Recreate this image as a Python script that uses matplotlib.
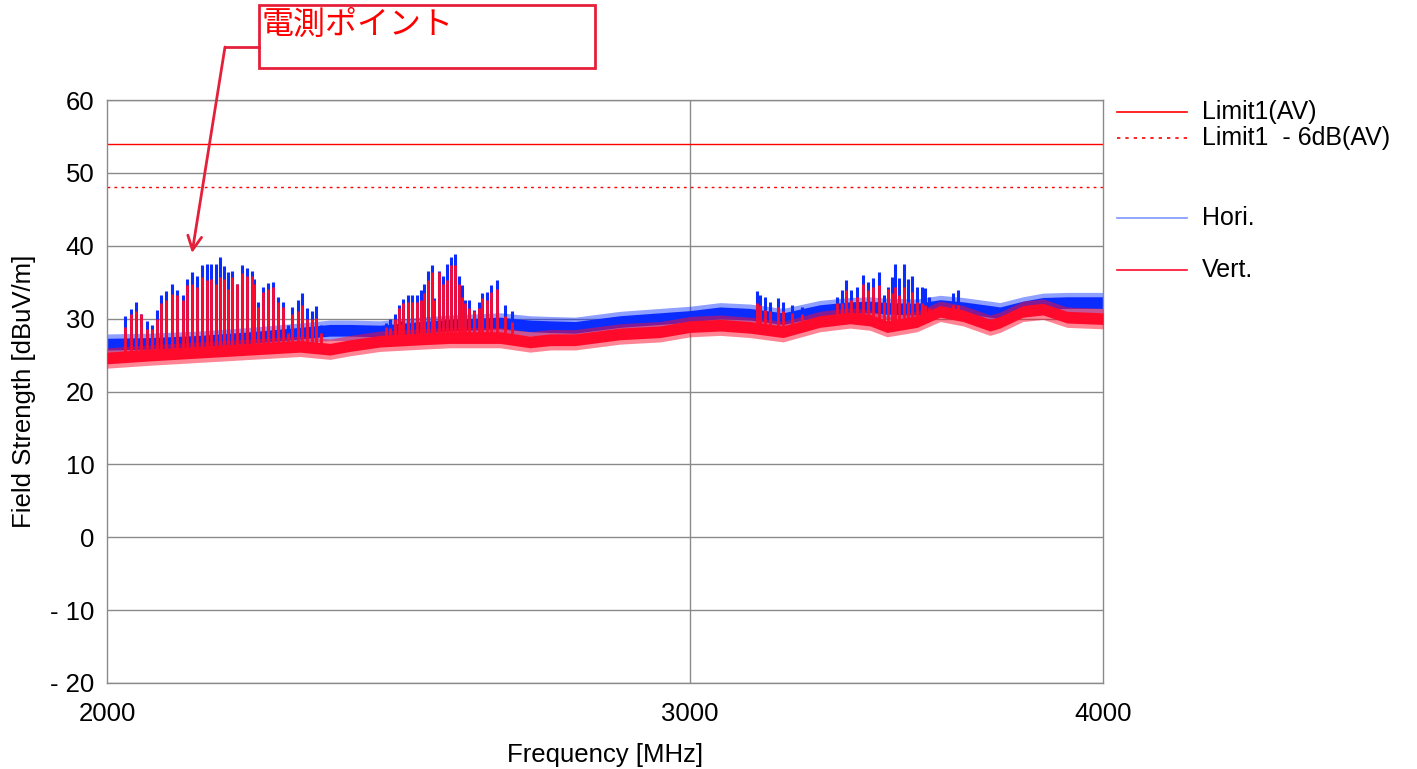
import numpy as np
import matplotlib
matplotlib.use('Agg')
import matplotlib.pyplot as plt
from matplotlib.lines import Line2D
from matplotlib.patches import Rectangle

plt.rcParams['font.family'] = ['Liberation Sans', 'Noto Sans CJK JP', 'DejaVu Sans']

# ---------------- data ----------------
base_freq = [2000, 2060.8, 2133.7, 2209.3, 2287.5, 2335.8, 2368.5, 2418.5, 2486.8,
             2539.3, 2629.2, 2684.6, 2722.3, 2770.1, 2858.2, 2938.9, 3000.9, 3064.2,
             3128.8, 3201.5, 3284.5, 3354.2, 3401.2, 3441.7, 3514.5, 3571.3, 3628.8,
             3697.4, 3723.2, 3783.3, 3836.4, 3900.9, 4000]
hori_base = [26.5, 26.6, 26.9, 27.4, 28.0, 28.4, 28.4, 28.3, 28.8,
             29.1, 29.4, 29.0, 28.9, 28.8, 29.6, 30.0, 30.3, 30.8,
             30.6, 30.0, 31.1, 31.5, 31.6, 31.4, 31.3, 31.8, 31.5,
             31.0, 30.8, 31.6, 32.1, 32.2, 32.2]
vert_base = [24.6, 25.0, 25.4, 25.8, 26.2, 25.8, 26.3, 26.9, 27.2,
             27.4, 27.4, 26.8, 27.1, 27.1, 27.9, 28.2, 28.9, 29.1,
             28.8, 28.2, 29.6, 30.1, 29.8, 28.9, 29.6, 31.0, 30.4,
             29.1, 29.5, 31.0, 31.3, 30.2, 30.0]

spike_freq = [2025.6, 2033.3, 2040.8, 2048.3, 2056.0, 2063.6, 2070.8, 2077.0, 2084.3,
              2092.6, 2099.8, 2108.7, 2114.5, 2121.9, 2129.3, 2136.7, 2144.2, 2150.6,
              2157.2, 2163.2, 2169.7, 2176.2, 2182.2, 2188.9, 2196.5, 2204.2, 2211.9,
              2215.9, 2222.1, 2229.8, 2237.6, 2245.4, 2252.3, 2260.2, 2268.0, 2275.3,
              2283.8, 2291.2, 2298.7, 2306.2, 2313.6, 2321.2,
              2428.1, 2435.9, 2443.3, 2450.7, 2454.6, 2458.0, 2465.6, 2473.0, 2481.1,
              2488.5, 2493.2, 2500.2, 2507.1, 2511.1, 2519.4, 2526.9, 2533.5, 2541.1,
              2548.1, 2554.7, 2560.1, 2565.9, 2572.6, 2582.6, 2591.6, 2595.9, 2605.0,
              2612.8, 2623.2, 2638.4, 2650.7,
              3143.3, 3150.6, 3161.6, 3172.6, 3191.0, 3200.8, 3220.9, 3243.4, 3323.4,
              3335.0, 3345.0, 3356.6, 3370.0, 3384.1, 3397.3, 3409.1, 3423.4, 3434.6,
              3444.9, 3453.1, 3461.0, 3471.4, 3483.5, 3493.2, 3502.9, 3513.7, 3525.9,
              3534.8, 3544.6, 3604.3, 3616.9]
hori_peak = [30.3, 31.3, 32.3, 30.7, 29.7, 29.1, 31.2, 33.3, 33.8,
             34.8, 33.9, 33.2, 35.5, 36.4, 35.9, 37.3, 37.5, 37.5,
             37.5, 38.4, 37.2, 36.4, 36.6, 34.8, 37.3, 37.0, 36.6,
             35.5, 32.3, 34.4, 34.9, 35.0, 32.9, 32.3, 29.1, 31.6,
             32.6, 33.5, 31.5, 31.0, 31.7, 29.1,
             29.4, 29.9, 30.6, 31.9, 29.7, 32.7, 33.2, 33.2, 33.2,
             33.9, 34.7, 36.6, 37.3, 32.8, 36.5, 35.9, 37.5, 38.4,
             38.9, 35.9, 34.6, 32.6, 32.6, 31.2, 32.3, 33.5, 33.7,
             34.6, 35.3, 31.9, 31.1,
             33.8, 33.3, 32.9, 32.3, 32.8, 32.3, 31.9, 31.6, 33.0,
             33.9, 35.3, 33.9, 34.4, 36.0, 35.0, 35.6, 36.4, 33.3,
             34.4, 35.7, 37.5, 35.6, 37.5, 35.4, 35.9, 34.4, 34.4,
             34.2, 33.0, 33.5, 33.9]
vert_peak = [28.8, 30.7, 31.0, 30.6, 28.6, 28.6, 30.0, 32.1, 32.6,
             33.4, 33.2, 32.6, 34.6, 34.8, 34.4, 35.7, 35.3, 35.5,
             34.8, 35.7, 35.5, 34.1, 35.7, 34.8, 36.2, 35.9, 35.9,
             34.8, 31.6, 33.7, 34.1, 34.4, 32.3, 31.6, 28.0, 30.7,
             31.0, 31.9, 29.9, 29.9, 30.1, 28.0,
             28.9, 28.7, 29.9, 31.5, 29.3, 32.1, 32.3, 32.3, 32.3,
             32.6, 33.5, 35.3, 36.4, 32.6, 36.4, 34.8, 35.3, 37.3,
             37.3, 34.8, 33.0, 32.1, 31.5, 31.0, 31.5, 32.8, 32.6,
             33.7, 34.1, 30.3, 29.6,
             32.2, 31.9, 31.2, 31.0, 31.6, 31.0, 30.8, 30.6, 32.1,
             32.1, 33.9, 32.5, 33.0, 34.8, 33.9, 34.4, 34.6, 32.3,
             34.1, 33.5, 34.4, 33.3, 34.4, 32.3, 33.7, 32.3, 32.1,
             31.9, 31.4, 31.9, 31.9]

limit_av = 54.0
limit_av_6db = 48.0

x_ticks = [2000, 3000, 4000]
x_tick_labels = ['2000', '3000', '4000']
y_ticks = [-20, -10, 0, 10, 20, 30, 40, 50, 60]
y_tick_labels = ['- 20', '- 10', '0', '10', '20', '30', '40', '50', '60']

legend_labels = ['Limit1(AV)', 'Limit1  - 6dB(AV)', 'Hori.', 'Vert.']
annotation_text = '電測ポイント'
arrow_target = (2121.9, 39.0)

# ---------------- styles ----------------
BLUE = '#0a2cff'
RED = '#ff0a2a'
LIMIT = '#ff0000'
GRID = '#8a8a8a'
BOXRED = '#e5203a'

W, H = 1417, 769
fig = plt.figure(figsize=(W / 100, H / 100), dpi=100)
ax = fig.add_axes([107 / W, 1 - 683 / H, (1103 - 107) / W, (683 - 100) / H])

ax.set_xscale('log')
ax.set_xlim(2000, 4000)
ax.set_ylim(-20, 60)

# grid
for yv in y_ticks:
    ax.axhline(yv, color=GRID, lw=1.0, zorder=0.5)
ax.axvline(3000, color=GRID, lw=1.0, zorder=0.5)

# limits
ax.axhline(limit_av, color=LIMIT, lw=1.0, zorder=1)
ax.axhline(limit_av_6db, color=LIMIT, lw=1.0, ls=(0, (2, 3)), zorder=1)

bf = np.array(base_freq)
hb = np.array(hori_base)
vb = np.array(vert_base)
sf = np.array(spike_freq)

# Hori.
ax.fill_between(bf, hb - 1.4, hb + 1.4, color=BLUE, alpha=0.45, lw=0, zorder=2)
ax.fill_between(bf, hb - 0.8, hb + 0.8, color=BLUE, lw=0, zorder=2.05)
ax.vlines(sf, np.interp(sf, bf, hb), hori_peak, color=BLUE, lw=2.2, zorder=2.1)

# Vert.
ax.fill_between(bf, vb - 1.4, vb + 1.4, color=RED, alpha=0.5, lw=0, zorder=3)
ax.fill_between(bf, vb - 0.8, vb + 0.8, color=RED, lw=0, zorder=3.05)
ax.vlines(sf, np.interp(sf, bf, vb), vert_peak, color=RED, lw=2.0, zorder=3.1)

# axes styling
ax.set_xticks(x_ticks)
ax.set_xticklabels(x_tick_labels)
ax.xaxis.set_minor_locator(matplotlib.ticker.NullLocator())
ax.set_yticks(y_ticks)
ax.set_yticklabels(y_tick_labels)
ax.tick_params(axis='both', length=0, labelsize=18.5)
ax.tick_params(axis='x', pad=14)
ax.tick_params(axis='y', pad=9)
for s in ax.spines.values():
    s.set_color(GRID)
    s.set_linewidth(1.0)

ax.set_xlabel('Frequency [MHz]', fontsize=18.5, labelpad=12)
ax.set_ylabel('Field Strength [dBuV/m]', fontsize=18.5, labelpad=10)

# legend (drawn manually at right)
leg_rows = [(112, LIMIT, '-'), (138, LIMIT, (0, (2, 3))), (218, '#7f96ff', '-'), (270, RED, '-')]
for (yp, col, ls), lab in zip(leg_rows, legend_labels):
    fig.add_artist(Line2D([1117 / W, 1187 / W], [1 - yp / H, 1 - yp / H], color=col, lw=1.2, ls=ls))
    fig.text(1202 / W, 1 - yp / H, lab, fontsize=18, va='center', ha='left')

# annotation box
fig.add_artist(Rectangle((259 / W, 1 - 68 / H), (595 - 259) / W, (68 - 5) / H,
                         transform=fig.transFigure, fill=False, ec=BOXRED, lw=2))
fig.text(262 / W, 1 - 25 / H, annotation_text, fontsize=23, color='#ff0000',
         va='center', ha='left', family=['Noto Sans CJK JP', 'DejaVu Sans'])
fig.add_artist(Line2D([259 / W, 225 / W], [1 - 47 / H, 1 - 47 / H], color=BOXRED, lw=2))
ax.annotate('', xy=arrow_target, xycoords='data',
            xytext=(225, H - 47), textcoords='figure pixels',
            arrowprops=dict(arrowstyle='->,head_length=1.0,head_width=0.5',
                            color=BOXRED, lw=2, shrinkA=0, shrinkB=0),
            annotation_clip=False)

fig.savefig('out.png', dpi=100)
